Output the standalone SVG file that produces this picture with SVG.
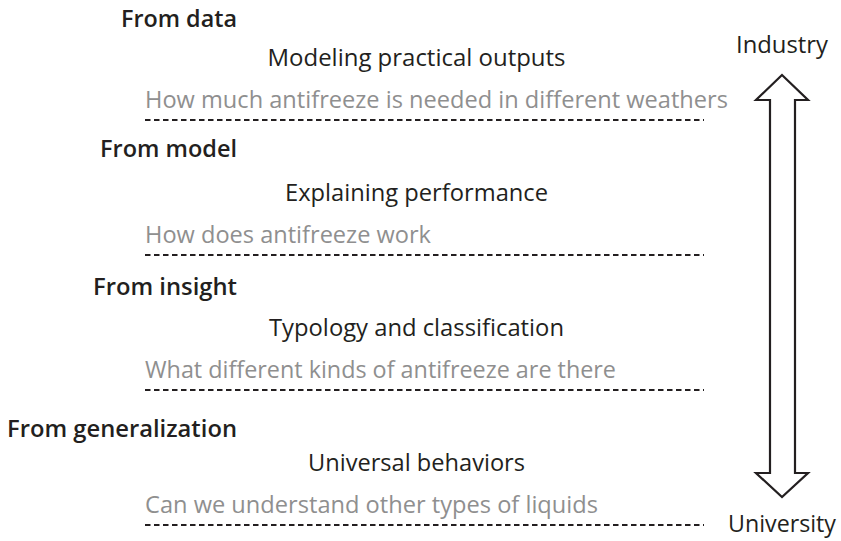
<svg xmlns="http://www.w3.org/2000/svg" width="841" height="541" viewBox="0 0 841 541">
  <style>
    text { font-family: "Open Sans", "Noto Sans", "DejaVu Sans", sans-serif; }
    .label { font-size: 23px; font-weight: 600; fill: #231f20; text-anchor: end; }
    .title { font-size: 23.5px; fill: #231f20; text-anchor: middle; }
    .example { font-size: 23.5px; fill: #8f8f8f; }
    .pole { font-size: 23.5px; fill: #231f20; text-anchor: middle; }
    .divider { stroke: #231f20; stroke-width: 2; stroke-dasharray: 5.5 3.5; fill: none; }
    .scale { fill: #ffffff; stroke: #231f20; stroke-width: 2.2; stroke-linejoin: miter; }
  </style>

  <!-- Level 1 -->
  <g id="level-data">
    <text class="label" x="237" y="27" textLength="116" lengthAdjust="spacingAndGlyphs">From data</text>
    <text class="title" x="416.5" y="66" textLength="298" lengthAdjust="spacingAndGlyphs">Modeling practical outputs</text>
    <text class="example" x="145" y="108" textLength="583" lengthAdjust="spacingAndGlyphs">How much antifreeze is needed in different weathers</text>
  </g>

  <!-- Level 2 -->
  <g id="level-model">
    <text class="label" x="237" y="157" textLength="137" lengthAdjust="spacingAndGlyphs">From model</text>
    <text class="title" x="416.5" y="201" textLength="263" lengthAdjust="spacingAndGlyphs">Explaining performance</text>
    <text class="example" x="145" y="243" textLength="286" lengthAdjust="spacingAndGlyphs">How does antifreeze work</text>
  </g>

  <!-- Level 3 -->
  <g id="level-insight">
    <text class="label" x="237" y="295" textLength="144" lengthAdjust="spacingAndGlyphs">From insight</text>
    <text class="title" x="416.5" y="336" textLength="295" lengthAdjust="spacingAndGlyphs">Typology and classification</text>
    <text class="example" x="145" y="378" textLength="471" lengthAdjust="spacingAndGlyphs">What different kinds of antifreeze are there</text>
  </g>

  <!-- Level 4 -->
  <g id="level-generalization">
    <text class="label" x="237" y="437" textLength="230" lengthAdjust="spacingAndGlyphs">From generalization</text>
    <text class="title" x="416.5" y="471" textLength="217" lengthAdjust="spacingAndGlyphs">Universal behaviors</text>
    <text class="example" x="145" y="513" textLength="453" lengthAdjust="spacingAndGlyphs">Can we understand other types of liquids</text>
  </g>

  <!-- Poles of the scale -->
  <g id="pole-industry">
    <text class="pole" x="782" y="53" textLength="92" lengthAdjust="spacingAndGlyphs">Industry</text>
  </g>
  <g id="pole-university">
    <text class="pole" x="782" y="532" textLength="108" lengthAdjust="spacingAndGlyphs">University</text>
  </g>

  <!-- Dividers and double-headed scale arrow -->
  <g id="connectors">
    <line class="divider" x1="145" y1="120" x2="704" y2="120"/>
    <line class="divider" x1="145" y1="255" x2="704" y2="255"/>
    <line class="divider" x1="145" y1="390" x2="704" y2="390"/>
    <line class="divider" x1="145" y1="525" x2="704" y2="525"/>
    <polygon class="scale" points="782,75 808,100 795,100 795,473 808,473 782,497 756,473 770,473 770,100 756,100"/>
  </g>
</svg>
